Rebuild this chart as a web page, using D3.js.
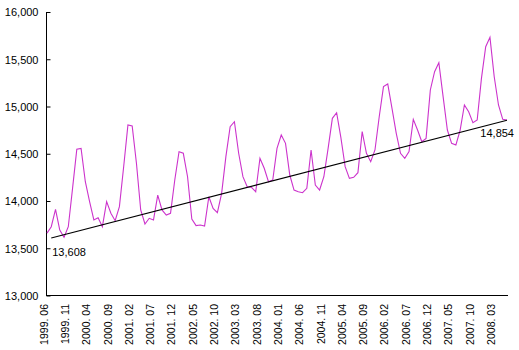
<!DOCTYPE html>
<html>
<head>
<meta charset="utf-8">
<script src="https://cdn.jsdelivr.net/npm/d3@7"></script>
<style>
  html, body { margin: 0; padding: 0; background: #fff; }
  svg { display: block; }
  text { font-family: Tahoma, "Liberation Sans", Arial, sans-serif; fill: #000; }
</style>
</head>
<body>
<svg id="chart" width="519" height="350"></svg>
<script>
// Monthly series, June 1999 through June 2008
const startYear = 1999, startMonth = 6, monthCount = 109;

const values = [
  13660, 13728, 13912, 13693, 13616, 13728, 14134, 14547, 14557, 14204,
  13993, 13799, 13823, 13728, 13993, 13870, 13792, 13940, 14363, 14804,
  14794, 14399, 13905, 13757, 13817, 13799, 14063, 13905, 13852, 13870,
  14222, 14522, 14505, 14257, 13810, 13740, 13746, 13735, 14045, 13922,
  13876, 14081, 14469, 14786, 14839, 14505, 14257, 14151, 14145, 14098,
  14452, 14346, 14204, 14222, 14557, 14698, 14610, 14275, 14116, 14098,
  14088, 14134, 14540, 14169, 14116, 14257, 14557, 14875, 14934, 14670,
  14363, 14240, 14250, 14300, 14734, 14505, 14416, 14540, 14892, 15210,
  15238, 14981, 14716, 14505, 14452, 14522, 14864, 14751, 14627, 14663,
  15175, 15368, 15463, 15104, 14751, 14610, 14593, 14751, 15016, 14945,
  14828, 14857, 15298, 15633, 15732, 15315, 15016, 14864, 14857
];

// Linear trend: labelled start and end values
const trendStart = { month: "1999. 07", value: 13608 };
const trendEnd   = { month: "2008. 06", value: 14854 };

const tickLabels = [
  "1999. 06", "1999. 11", "2000. 04", "2000. 09", "2001. 02", "2001. 07",
  "2001. 12", "2002. 05", "2002. 10", "2003. 03", "2003. 08", "2004. 01",
  "2004. 06", "2004. 11", "2005. 04", "2005. 09", "2006. 02", "2006. 07",
  "2006. 12", "2007. 05", "2007. 10", "2008. 03"
];

const yTicks = [13000, 13500, 14000, 14500, 15000, 15500, 16000];

// Category labels for each month
const months = [];
for (let k = 0; k < monthCount; k++) {
  const m0 = startMonth - 1 + k;
  const yr = startYear + Math.floor(m0 / 12);
  const m = (m0 % 12) + 1;
  months.push(yr + ". " + String(m).padStart(2, "0"));
}

const svg = d3.select("#chart");

const x = d3.scalePoint().domain(months).range([47, 507]);
const y = d3.scaleLinear().domain([13000, 16000]).range([295.5, 12]);

// Y axis with inward ticks
const yAxis = svg.append("g").attr("transform", "translate(46.5,0)")
  .call(d3.axisRight(y).tickValues(yTicks).tickSize(4).tickFormat(d3.format(",")));
yAxis.select(".domain").attr("d", `M0,${y(16000)}V${y(13000)}`).attr("stroke", "#000");
yAxis.selectAll(".tick line").attr("stroke", "#000");
yAxis.selectAll(".tick text")
  .attr("x", -8).attr("text-anchor", "end")
  .attr("font-size", 11).attr("dy", "0.35em");

// X axis line and rotated month labels
const xAxis = svg.append("g").attr("transform", "translate(0,295.5)")
  .call(d3.axisBottom(x).tickValues(tickLabels).tickSize(0));
xAxis.select(".domain").attr("d", `M46,0H508`).attr("stroke", "#000");
xAxis.selectAll(".tick text")
  .attr("transform", "rotate(-90)")
  .attr("x", -8.5).attr("y", -3.5).attr("dy", "0.35em")
  .attr("text-anchor", "end")
  .attr("font-size", 10.5);

// Monthly line
const line = d3.line()
  .x((d, i) => x(months[i]))
  .y(d => y(d));

svg.append("path")
  .datum(values)
  .attr("fill", "none")
  .attr("stroke", "#cc33cc")
  .attr("stroke-width", 1.1)
  .attr("d", line);

// Trend line
const trend = [trendStart, trendEnd];
svg.append("path")
  .datum(trend)
  .attr("fill", "none")
  .attr("stroke", "#000")
  .attr("stroke-width", 1.1)
  .attr("d", d3.line().x(d => x(d.month)).y(d => y(d.value)));

// Trend value labels
svg.append("text")
  .attr("x", x(trendStart.month) + 1)
  .attr("y", y(trendStart.value) + 18)
  .attr("font-size", 11)
  .text(d3.format(",")(trendStart.value));

svg.append("text")
  .attr("x", x(trendEnd.month) + 7)
  .attr("y", y(trendEnd.value) + 17)
  .attr("font-size", 11)
  .attr("text-anchor", "end")
  .text(d3.format(",")(trendEnd.value));
</script>
</body>
</html>
